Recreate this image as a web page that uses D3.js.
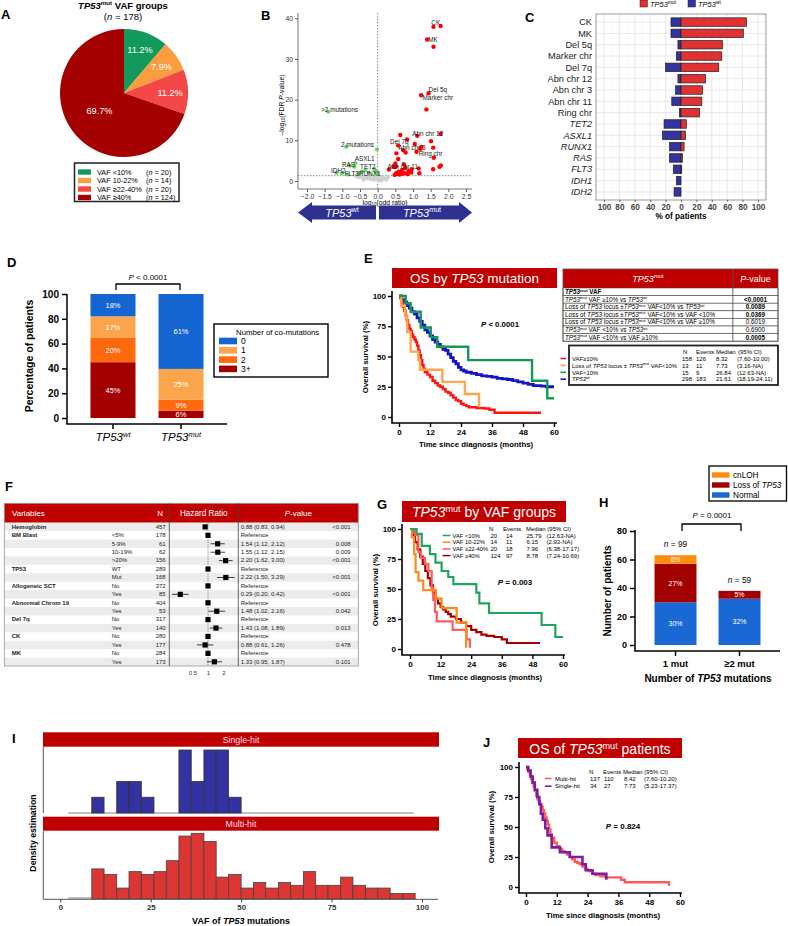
<!DOCTYPE html>
<html><head><meta charset="utf-8">
<script src="https://cdn.jsdelivr.net/npm/d3@7"></script>
<style>body{margin:0;background:#fff}svg{display:block}</style>
</head><body><svg id="c" width="788" height="926"></svg>
<script>
// ================= DATA =================
// A
const vafGroups=["VAF <10%","VAF 10-22%","VAF ≥22-40%","VAF ≥40%"];
const vafCounts=[20,14,20,124];
const vafPct=["11.2%","7.9%","11.2%","69.7%"];
// B (log10 odds ratio, -log10 FDR p)
const volcRed=[[1.58,37.9],[1.78,38.1],[1.40,34.8],[1.58,33.0],[1.44,21.6],[1.23,21.1],[1.38,17.6],[1.12,11.1],[1.78,11.6],[0.64,11.3],[1.51,9.8],[0.83,10.2],[1.05,9.1],[0.58,8.7],[1.24,8.4],[1.57,8.2],[0.72,7.6],[0.79,7.0],[0.53,6.8],[1.21,7.9],[1.10,7.2],[1.59,5.7],[0.58,5.4],[0.50,4.3],[0.74,4.1],[1.79,3.8],[1.75,3.5],[0.48,3.4],[0.45,3.6],[0.52,3.6],[0.32,2.8],[1.16,3.1],[1.57,2.9],[0.96,2.9],[0.88,2.5],[0.78,3.2],[0.69,2.7],[0.60,2.3],[0.55,1.7],[0.53,2.0],[0.78,1.9],[0.95,2.1],[1.18,1.9],[0.62,1.6],[0.70,1.8],[0.85,1.7],[0.48,1.5]];
const volcGreen=[[-1.40,17.0],[-0.89,8.4],[-0.02,7.8],[-0.63,4.4],[-0.80,3.8],[-0.66,3.5],[-0.35,2.7],[-0.45,2.3],[-0.09,2.9],[-0.05,2.3],[0.0,1.9],[-1.01,1.9],[-1.17,2.0],[-0.54,1.8],[-0.85,1.6],[-0.25,2.0]];
const volcGrey=[[-0.62,1.2],[-0.55,0.9],[-0.48,1.1],[-0.42,0.7],[-0.35,1.0],[-0.3,0.6],[-0.25,0.9],[-0.2,0.4],[-0.15,0.8],[-0.1,0.3],[-0.05,0.5],[0.02,0.2],[0.05,0.6],[0.1,0.1],[0.15,0.4],[0.2,0.7],[0.25,0.3],[0.3,1.0],[-0.08,1.1],[0.0,0.9],[-0.4,0.3],[0.12,0.9]];
const volcLabels=[["CK",1.52,38.9],["MK",1.43,34.7],["Del 5q",1.44,22.4],["Marker chr",1.27,20.5],["Abn chr 12",0.98,11.6],["Del 7q",0.35,9.6],["Abn chr 3",0.58,8.2],["Ring chr",1.16,6.7],["Abn chr 11",0.28,3.4],[">2 mutations",-1.60,17.5],["2 mutations",-1.04,8.8],["ASXL1",-0.65,5.4],["RAS",-1.01,4.0],["TET2",-0.50,3.6],["IDH2",-1.32,2.4],["FLT3",-0.94,1.8],["RUNX1",-0.53,1.8]];
const volcXTicks=[-2,-1.5,-1,-0.5,0,0.5,1,1.5,2,2.5];
const volcYTicks=[0,10,20,30,40];
// C
const cCats=["CK","MK","Del 5q","Marker chr","Del 7q","Abn chr 12","Abn chr 3","Abn chr 11","Ring chr","TET2","ASXL1","RUNX1","RAS","FLT3","IDH1","IDH2"];
const cGenes=["TET2","ASXL1","RUNX1","RAS","FLT3","IDH1","IDH2"];
const cMut=[85,81,54,53,49,32,28,27,24,7,6,4,2,1,0,0];
const cWt=[13,13,4,6,20,4,7,12,2,22,24,15,15,10,6,9];
const cTicks=[-100,-80,-60,-40,-20,0,20,40,60,80,100];
// D
const dGroups=["wt","mut"];
const dLevels=["3+","2","1","0"];
const dWt=[45,20,17,18];
const dMut=[6,9,25,61];
const dTicks=[0,20,40,60,80,100];
// E
const eVafHigh=[[0,100],[0.5,98],[1,95],[1.5,91],[2,88],[2.5,84],[3,80],[3.5,76],[4,73],[4.5,71],[5,68],[5.5,66],[6,64],[6.5,62],[7,59],[7.5,55],[8,51],[8.5,47],[9,43],[9.5,40],[10,37],[11,35],[12,33],[13,30],[14,28],[15,26],[16,25],[17,23],[18,21],[19,20],[20,18],[21,16],[22,14],[23,13],[24,11],[25,10],[26,9],[27,8],[30,7.5],[33,7],[35,6],[37,3.5],[55,3.5]];
const eLoss=[[0,100],[0.9,92],[2.3,84],[3.2,70],[4.5,54],[7.5,47],[8.1,39],[16.8,29],[25.5,19],[31,8]];
const eVafLow=[[0,100],[2.6,94],[4.5,87],[8.4,74],[12.3,66],[14.8,58],[26.8,47],[51.5,30],[57.4,15.5],[60,15.5]];
const eWt=[[0,100],[1,97],[2,95],[3,92],[4,90],[5,87],[6,85],[7,82],[8,79],[9,76],[10,72],[11,70],[12,67],[13,64],[14,62],[15,60],[16,58],[17,56],[18,55],[19,52],[20,49],[21,46],[22,44],[23,41],[24,39],[25,38],[26,37],[28,36],[30,35],[32,34],[34,33.5],[36,33],[38,32],[40,31.5],[42,31],[44,30],[46,29],[48,28],[50,27],[52,26],[55,25.5],[57,25],[60,25]];
const eCompRows=[[["TP53","bi"],["mut","sb"],[" VAF","b"]],[["TP53","i"],["mut","s"]," VAF ≥10% vs ",["TP53","i"],["wt","s"]],["Loss of ",["TP53","i"]," locus ±",["TP53","i"],["mut","s"]," VAF<10% vs ",["TP53","i"],["wt","s"]],["Loss of ",["TP53","i"]," locus ±",["TP53","i"],["mut","s"]," VAF<10% vs VAF <10%"],["Loss of ",["TP53","i"]," locus ±",["TP53","i"],["mut","s"]," VAF<10% vs VAF ≥10%"],[["TP53","i"],["mut","s"]," VAF <10% vs ",["TP53","i"],["wt","s"]],[["TP53","i"],["mut","s"]," VAF <10% vs VAF ≥10%"]];
const eCompP=["","<0.0001","0.0089","0.0369","0.6019","0.6900","0.0005"];
const eCompBold=[false,true,true,true,false,false,true];
const eLegLabels=[["VAF≥10%"],["Loss of ",["TP53","i"]," locus ± ",["TP53","i"],["mut","s"]," VAF<10%"],["VAF<10%"],[["TP53","i"],["wt","s"]]];
const eN=[158,13,15,298], eEv=[126,11,9,183], eMed=["8.32","7.73","26.84","21.61"], eCI=["(7.60-10.00)","(3.16-NA)","(12.63-NA)","(18.19-24.11)"];
const kmYTicks=[0,25,50,75,100], kmXTicks=[0,12,24,36,48,60];
// F
const fVars=["Hemoglobin","BM Blast","","","","TP53","","Allogeneic SCT","","Abnormal Chrom 19","","Del 7q","","CK","","MK",""];
const fLevels=["","<5%","5-9%","10-19%",">20%","WT","Mut","No","Yes","No","Yes","No","Yes","No","Yes","No","Yes"];
const fN=[457,178,61,62,156,289,168,372,85,404,53,317,140,280,177,284,173];
const fHR=[0.88,1,1.54,1.55,2.20,1,2.22,1,0.29,1,1.48,1,1.43,1,0.88,1,1.33];
const fLo=[0.83,null,1.12,1.12,1.62,null,1.50,null,0.20,null,1.02,null,1.08,null,0.61,null,0.95];
const fHi=[0.94,null,2.12,2.15,3.00,null,3.29,null,0.42,null,2.16,null,1.89,null,1.26,null,1.87];
const fP=["<0.001","","0.008","0.009","<0.001","","<0.001","","<0.001","","0.042","","0.013","","0.478","","0.101"];
const fTicks=[0.5,1,2];
// G
const gLow=[[0,100],[2.6,96],[4.6,86],[7.8,79],[10,72],[12.4,65],[15,60],[17,54],[26,47],[27.2,38],[31,30],[51.6,20],[57,10],[60,10]];
const gMid=[[0,100],[0.7,93],[1.6,79],[2.2,64],[3.3,57],[5.2,49],[10.2,42],[12.4,34],[18.3,22],[22,1]];
const gHigh=[[0,100],[2,95],[3.3,81],[4.3,76],[5.9,71],[7.2,65],[8.5,51],[9.1,41],[9.8,31],[10.5,23],[16.7,16],[22.2,8],[23.5,1]];
const gTop=[[0,100],[1,95],[2,89],[3,83],[4,77],[5,71],[6,65],[7,59],[8,53],[9,47],[10,42],[11,38],[12,35],[13,33],[14,31],[15,29],[16,27],[18,25],[20,22],[22,19],[24,16],[26,14],[28,12],[30,11],[33,10],[36,8],[38,5],[51,5]];
const gLeg=["VAF <10%","VAF 10-22%","VAF ≥22-40%","VAF ≥40%"];
const gN=[20,14,20,124], gEv=[14,11,18,97], gMed=["25.79","6.15","7.96","8.78"], gCI=["(12.63-NA)","(2.93-NA)","(6.38-17.17)","(7.24-10.69)"];
// H
const hGroups=["1 mut","≥2 mut"];
const hNormal=[30,32.5], hLoss=[27,5.5], hCnloh=[6,0];
const hLabels=[["30%","27%","6%"],["32%","5%",""]];
const hTotals=["99","59"];
const hTicks=[0,20,40,60,80];
// I
const vafBinEdges=[1.8,5.2,8.7,12.1,15.6,19.0,22.4,25.9,29.3,32.8,36.2,39.7,43.1,46.5,50.0,53.4,56.8,60.3,63.7,67.2,70.6,74.0,77.5,80.9,84.4,87.8,91.2,94.7,98.1];
const singleHit=[0,0,1,0,2,2,1,0,0,4,2,4,4,1,0,0,0,0,0,0,0,0,0,0,0,0,0,0];
const multiHit=[0,0,11,9,4,10,9,10,14,23,24,21,8,9,4,6,4,6,5,10,5,5,8,5,4,4,2,2];
const iTicks=[0,25,50,75,100];
// J
const jMulti=[[0,100],[0.5,98],[1,96],[1.5,93],[2,90],[2.5,87],[3,84],[3.5,80],[4,76],[4.5,73],[5,71],[5.5,69],[6,67],[6.5,64],[7,61],[7.5,58],[8,55],[8.5,52],[9,48],[9.5,44],[10,41],[11,37],[12,34],[13,32],[14,30],[15,29],[16,27],[17,25],[18,23],[19,21],[20,20],[21,19],[22,17],[23,15],[24,14],[25,13],[26,11],[27,10],[29,9],[31,8],[37,6],[38.5,4],[55.5,4],[55.7,1]];
const jSingle=[[0,100],[0.9,97],[1.8,92],[2.6,87],[3.4,81],[4.4,75],[5.2,69],[5.8,61],[6.5,56],[7.5,49],[8.4,43],[10,33],[13.2,29],[17.1,25],[22,19],[23.3,14],[25.9,11],[31.3,6]];
const jLeg=["Multi-hit","Single-hit"], jN=[137,34], jEv=[110,27], jMed=["8.42","7.73"], jCI=["(7.60-10.20)","(5.23-17.37)"];

// ================= HELPERS =================
const FONT='"Liberation Sans", Arial, Helvetica, sans-serif';
const RED="#c00000";
const svg=d3.select("#c").attr("font-family",FONT);
svg.append("rect").attr("width",788).attr("height",926).attr("fill","#fff");

function rich(parent,x,y,parts,o={}){
  const fs=o.size||10;
  const t=parent.append("text").attr("x",x).attr("y",y).attr("font-size",fs)
    .attr("text-anchor",o.anchor||"start").attr("fill",o.fill||"#000")
    .attr("font-weight",o.weight||"normal");
  if(o.style) t.attr("font-style",o.style);
  if(o.rotate) t.attr("transform",`rotate(${o.rotate},${x},${y})`);
  let cur=0;
  parts.forEach(p=>{
    const txt=Array.isArray(p)?p[0]:p, st=Array.isArray(p)?(p[1]||""):"";
    const ts=t.append("tspan").text(txt);
    if(st.includes("i")) ts.attr("font-style","italic");
    if(st.includes("b")) ts.attr("font-weight","bold");
    let target=0;
    if(st.includes("s")){target=-fs*0.38; ts.attr("font-size",fs*0.65);}
    else if(st.includes("u")){target=fs*0.22; ts.attr("font-size",fs*0.65);}
    if(target!==cur){ts.attr("dy",target-cur); cur=target;}
  });
  return t;
}
function txt(x,y,s,o={}){
  const t=svg.append("text").attr("x",x).attr("y",y).attr("font-size",o.size||8)
   .attr("text-anchor",o.anchor||"start").attr("fill",o.fill||"#000").attr("font-weight",o.weight||"normal").text(s);
  if(o.style) t.attr("font-style",o.style);
  if(o.rotate) t.attr("transform",`rotate(${o.rotate},${x},${y})`);
  return t;
}
function panelLabel(x,y,s){txt(x,y,s,{size:13,weight:"bold"});}
function styleAxis(g,fs,weight,color,sw){
  g.select(".domain").remove();
  g.attr("font-family",FONT).attr("font-size",fs);
  g.selectAll("text").attr("fill",color).attr("font-weight",weight);
  g.selectAll("line").attr("stroke",color).attr("stroke-width",sw);
}
function kmLine(data,x,y,color,w){
  svg.append("path").datum(data).attr("fill","none").attr("stroke",color).attr("stroke-width",w)
   .attr("stroke-linejoin","miter").attr("d",d3.line().x(d=>x(d[0])).y(d=>y(d[1])).curve(d3.curveStepAfter));
}
function kmFrame(x,y,ax,ay,top,right){
  const gy=svg.append("g").attr("transform",`translate(${ax},0)`).call(d3.axisLeft(y).tickValues(kmYTicks).tickSize(4).tickPadding(2));
  const gx=svg.append("g").attr("transform",`translate(0,${ay})`).call(d3.axisBottom(x).tickValues(kmXTicks).tickSize(4).tickPadding(2));
  styleAxis(gy,8,"bold","#000",1.4); styleAxis(gx,8,"bold","#000",1.4);
  svg.append("path").attr("d",`M${ax},${top}V${ay}H${right}`).attr("fill","none").attr("stroke","#000").attr("stroke-width",1.6);
}
function titleBar(x0,y0,x1,y1,parts,size,by){
  svg.append("rect").attr("x",x0).attr("y",y0).attr("width",x1-x0).attr("height",y1-y0).attr("fill",RED);
  rich(svg,(x0+x1)/2,by,parts,{size,anchor:"middle",fill:"#fff"});
}

// ================= A =================
panelLabel(1,19,"A");
rich(svg,123,9,[["TP53","ib"],["mut","sb"],[" VAF groups","b"]],{size:9.5,anchor:"middle"});
rich(svg,123,20,["(",["n","i"]," = 178)"],{size:9.5,anchor:"middle"});
const pieCol=["#119a5c","#fb9d3f","#f44747","#a40000"];
const R=64, pc=[124,93];
const pie=d3.pie().sort(null)(vafCounts);
const gA=svg.append("g").attr("transform",`translate(${pc[0]},${pc[1]})`);
gA.selectAll("path").data(pie).join("path").attr("d",d3.arc().innerRadius(0).outerRadius(R)).attr("fill",(d,i)=>pieCol[i]);
gA.selectAll("text").data(pie).join("text").each(function(d,i){
  const big=(d.endAngle-d.startAngle)>Math.PI;
  const r=big?R*0.47:R*0.72;
  const c=d3.arc().innerRadius(r).outerRadius(r).centroid(d);
  d3.select(this).attr("x",c[0]).attr("y",c[1]+3.3).attr("text-anchor","middle").attr("font-size",9.2).attr("fill","#fff").text(vafPct[i]);
});
svg.append("rect").attr("x",74.5).attr("y",163).attr("width",104.5).attr("height",38.5).attr("fill","#fff").attr("stroke","#222").attr("stroke-width",1.5);
vafGroups.forEach((g,i)=>{
  const cy=172+i*8.5;
  svg.append("rect").attr("x",78).attr("y",cy-2.7).attr("width",13).attr("height",5.4).attr("fill",pieCol[i]);
  txt(97,cy+2.6,g,{size:7.3});
  rich(svg,146,cy+2.6,["(",["n","i"]," = "+vafCounts[i]+")"],{size:7.3});
});

// ================= B =================
panelLabel(261,20,"B");
const xB=d3.scaleLinear().domain([-2,2.5]).range([307,466]);
const yB=d3.scaleLinear().domain([0,40]).range([181,18.3]);
svg.append("line").attr("x1",xB(0)).attr("x2",xB(0)).attr("y1",13).attr("y2",189).attr("stroke","#888").attr("stroke-dasharray","1.5,1.5");
svg.append("line").attr("x1",298).attr("x2",472).attr("y1",yB(1.3)).attr("y2",yB(1.3)).attr("stroke","#888").attr("stroke-dasharray","1.5,1.5");
const gbY=svg.append("g").attr("transform","translate(298,0)").call(d3.axisLeft(yB).tickValues(volcYTicks).tickSize(3).tickPadding(2));
const gbX=svg.append("g").attr("transform","translate(0,189)").call(d3.axisBottom(xB).tickValues(volcXTicks).tickFormat(d3.format(".1f")).tickSize(3).tickPadding(2));
styleAxis(gbY,6.8,"normal","#333",0.8); styleAxis(gbX,6.8,"normal","#333",0.8);
svg.append("path").attr("d","M298,13V189H472").attr("fill","none").attr("stroke","#555").attr("stroke-width",0.8);
rich(svg,385,205,["log",["10","u"],"(odd ratio)"],{size:6.8,anchor:"middle"});
rich(svg,284,105,["–log",["10","u"],"(FDR ",["P","i"],"-value)"],{size:6.8,anchor:"middle",rotate:-90});
const gB=svg.append("g");
gB.selectAll(".gr").data(volcGrey).join("circle").attr("cx",d=>xB(d[0])).attr("cy",d=>yB(d[1])).attr("r",2).attr("fill","#cfcfcf");
gB.selectAll(".gn").data(volcGreen).join("circle").attr("cx",d=>xB(d[0])).attr("cy",d=>yB(d[1])).attr("r",2.1).attr("fill","#66d466");
gB.selectAll(".rd").data(volcRed).join("circle").attr("cx",d=>xB(d[0])).attr("cy",d=>yB(d[1])).attr("r",2.2).attr("fill","#ff0000");
volcLabels.forEach(l=>txt(xB(l[1]),yB(l[2])+2.2,l[0],{size:6.4,fill:"#222"}));
// arrows
const AB="#2e3192";
svg.append("path").attr("d","M298,212.5L312,202V205.5H376V219.5H312V223Z").attr("fill",AB);
svg.append("path").attr("d","M472,212.5L459,202V205.5H379V219.5H459V223Z").attr("fill",AB);
rich(svg,342,216.5,[["TP53","i"],["wt","s"]],{size:11,anchor:"middle",fill:"#fff"});
rich(svg,422,216.5,[["TP53","i"],["mut","s"]],{size:11,anchor:"middle",fill:"#fff"});

// ================= C =================
panelLabel(525,22,"C");
const xC=d3.scaleLinear().domain([-100,100]).range([604,758]);
const yC=d3.scaleBand().domain(cCats).range([15,199]).padding(0.25);
const gC=svg.append("g");
gC.append("rect").attr("x",596).attr("y",14).attr("width",170).attr("height",186).attr("fill","#fff");
d3.range(-100,101,10).forEach(v=>gC.append("line").attr("x1",xC(v)).attr("x2",xC(v)).attr("y1",14).attr("y2",200).attr("stroke",v%20===0?"#e2e2e2":"#f0f0f0").attr("stroke-width",v%20===0?0.8:0.5));
cCats.forEach(c=>gC.append("line").attr("x1",596).attr("x2",766).attr("y1",yC(c)+yC.bandwidth()/2).attr("y2",yC(c)+yC.bandwidth()/2).attr("stroke","#e2e2e2").attr("stroke-width",0.8));
gC.selectAll(".w").data(cCats).join("rect").attr("x",(d,i)=>xC(-cWt[i])).attr("y",d=>yC(d)).attr("width",(d,i)=>xC(0)-xC(-cWt[i])).attr("height",yC.bandwidth()).attr("fill","#3333a3").attr("stroke","#222").attr("stroke-width",0.7);
gC.selectAll(".m").data(cCats).join("rect").attr("x",xC(0)).attr("y",d=>yC(d)).attr("width",(d,i)=>xC(cMut[i])-xC(0)).attr("height",yC.bandwidth()).attr("fill","#e03232").attr("stroke","#222").attr("stroke-width",0.7);
gC.append("rect").attr("x",596).attr("y",14).attr("width",170).attr("height",186).attr("fill","none").attr("stroke","#999").attr("stroke-width",1);
cCats.forEach(c=>txt(592,yC(c)+yC.bandwidth()/2+3.2,c,{size:9.2,anchor:"end",fill:"#222",style:cGenes.includes(c)?"italic":"normal"}));
const gcx=svg.append("g").attr("transform","translate(0,200)").call(d3.axisBottom(xC).tickValues(cTicks).tickFormat(d=>Math.abs(d)).tickSize(2).tickPadding(2));
styleAxis(gcx,8.2,"bold","#444",0.8);
txt(681,219,"% of patients",{size:8.2,weight:"bold",anchor:"middle"});
svg.append("rect").attr("x",640).attr("y",0).attr("width",7.5).attr("height",7).attr("fill","#e03232").attr("stroke","#222").attr("stroke-width",0.5);
rich(svg,650,7,[["TP53","i"],["mut","s"]],{size:7.5});
svg.append("rect").attr("x",688).attr("y",0).attr("width",7.5).attr("height",7).attr("fill","#3333a3").attr("stroke","#222").attr("stroke-width",0.5);
rich(svg,698,7,[["TP53","i"],["wt","s"]],{size:7.5});

// ================= D =================
panelLabel(7,267,"D");
const dCol={"0":"#1464d2","1":"#fda54d","2":"#ff6a0e","3+":"#a30000"};
const xD=d3.scaleBand().domain(dGroups).range([67,227]).paddingInner(0.338).paddingOuter(0.345);
const yD=d3.scaleLinear().domain([0,100]).range([418,294]);
[dWt,dMut].forEach((vals,gi)=>{
  const tot=d3.sum(vals); let acc=0;
  vals.forEach((v,li)=>{
    const h=v/tot*100, y0=acc, y1=acc+h; acc=y1;
    svg.append("rect").attr("x",xD(dGroups[gi])).attr("y",yD(y1)).attr("width",xD.bandwidth()).attr("height",yD(y0)-yD(y1)).attr("fill",dCol[dLevels[li]]);
    txt(xD(dGroups[gi])+xD.bandwidth()/2,(yD(y0)+yD(y1))/2+2.7,v+"%",{size:7.5,anchor:"middle",fill:"#fff"});
  });
});
const gdy=svg.append("g").attr("transform","translate(67,0)").call(d3.axisLeft(yD).tickValues(dTicks).tickSize(5).tickPadding(3));
styleAxis(gdy,10,"bold","#000",1.5);
svg.append("line").attr("x1",67).attr("x2",67).attr("y1",294).attr("y2",424).attr("stroke","#000").attr("stroke-width",1.5);
svg.append("line").attr("x1",66.25).attr("x2",227).attr("y1",424).attr("y2",424).attr("stroke","#000").attr("stroke-width",1.5);
dGroups.forEach(g=>{
  const cx=xD(g)+xD.bandwidth()/2;
  svg.append("line").attr("x1",cx).attr("x2",cx).attr("y1",424).attr("y2",429).attr("stroke","#000").attr("stroke-width",1.5);
  rich(svg,cx,441,[["TP53","i"],[g,"si"]],{size:11.5,anchor:"middle"});
});
txt(33,356,"Percentage of patients",{size:10.5,weight:"bold",anchor:"middle",rotate:-90});
svg.append("path").attr("d","M116,290V284H180V290").attr("fill","none").attr("stroke","#000").attr("stroke-width",1.3);
rich(svg,148,280,[["P","i"]," < 0.0001"],{size:8,anchor:"middle"});
svg.append("rect").attr("x",214).attr("y",324).attr("width",114).attr("height",53).attr("fill","#fff").attr("stroke","#000").attr("stroke-width",1.4);
txt(236,334.5,"Number of co-mutations",{size:7.8});
["0","1","2","3+"].forEach((l,i)=>{
  const cy=341+i*9.3;
  svg.append("rect").attr("x",219).attr("y",cy-3.3).attr("width",18).attr("height",6.6).attr("fill",dCol[l]);
  txt(241,cy+3,l,{size:8.5});
});

// ================= E =================
panelLabel(364,263,"E");
const xE=d3.scaleLinear().domain([0,60]).range([399,554]);
const yE=d3.scaleLinear().domain([0,100]).range([417,296]);
titleBar(392,268,557,288,["OS by ",["TP53","i"]," mutation"],13.5,283);
kmFrame(xE,yE,392,423,291,557);
kmLine(eWt,xE,yE,"#1414c8",2.8);
kmLine(eVafHigh,xE,yE,"#ff1414",2.4);
kmLine(eLoss,xE,yE,"#ffa54f",2.4);
kmLine(eVafLow,xE,yE,"#15985a",2.4);
txt(476,447,"Time since diagnosis (months)",{size:7.8,weight:"bold",anchor:"middle"});
txt(368,357,"Overall survival (%)",{size:7.8,weight:"bold",anchor:"middle",rotate:-90});
rich(svg,500,327,[["P","i"]," < 0.0001"],{size:7.8,anchor:"middle",weight:"bold"});
// comparison table
const tx0=563,tx1=778,tdv=733,ty0=269,thh=19,trh=7.6;
svg.append("rect").attr("x",tx0).attr("y",ty0).attr("width",tx1-tx0).attr("height",thh).attr("fill",RED);
rich(svg,(tx0+tdv)/2,ty0+12.5,[["TP53","i"],["mut","s"]],{size:9,anchor:"middle",fill:"#fff"});
rich(svg,(tdv+tx1)/2,ty0+12.5,[["P","i"],"-value"],{size:9,anchor:"middle",fill:"#fff"});
eCompRows.forEach((r,i)=>{
  const y=ty0+thh+i*trh;
  svg.append("rect").attr("x",tx0).attr("y",y).attr("width",tdv-tx0).attr("height",trh).attr("fill","#fff").attr("stroke","#444").attr("stroke-width",0.6);
  svg.append("rect").attr("x",tdv).attr("y",y).attr("width",tx1-tdv).attr("height",trh).attr("fill","#fff").attr("stroke","#444").attr("stroke-width",0.6);
  rich(svg,tx0+2,y+6,r,{size:6.3});
  txt((tdv+tx1)/2,y+6,eCompP[i],{size:6.3,anchor:"middle",weight:eCompBold[i]?"bold":"normal"});
});
svg.append("rect").attr("x",tx0).attr("y",ty0).attr("width",tx1-tx0).attr("height",thh+7*trh).attr("fill","none").attr("stroke","#555").attr("stroke-width",0.8);
svg.append("line").attr("x1",tdv).attr("x2",tdv).attr("y1",ty0).attr("y2",ty0+thh).attr("stroke","#555").attr("stroke-width",0.8);
// legend
svg.append("rect").attr("x",569).attr("y",345.5).attr("width",209).attr("height",39.5).attr("fill","#fff").attr("stroke","#222").attr("stroke-width",1.8);
txt(683,354,"N",{size:6});txt(696,354,"Events",{size:6});txt(716,354,"Median",{size:6});txt(738,354,"(95% CI)",{size:6});
const eCols=["#ff1414","#ffa54f","#15985a","#1414c8"];
eLegLabels.forEach((l,i)=>{
  const by=360.7+i*6.9;
  svg.append("line").attr("x1",560.5).attr("x2",566).attr("y1",by-2.2).attr("y2",by-2.2).attr("stroke",eCols[i]).attr("stroke-width",1.6);
  rich(svg,572,by,l,{size:5.9});
  txt(682,by,eN[i],{size:6});txt(696,by,eEv[i],{size:6});txt(716,by,eMed[i],{size:6});txt(737,by,eCI[i],{size:6});
});

// ================= F =================
panelLabel(5,491,"F");
const fx0=4.3,fx1=358.3,fy0=503.3,fhh=19.4,frh=8.43,fd1=169.3,fd2=238.3;
svg.append("rect").attr("x",fx0).attr("y",fy0).attr("width",fx1-fx0).attr("height",fhh).attr("fill",RED);
fN.forEach((n,i)=>{
  if(i%2===0) svg.append("rect").attr("x",fx0).attr("y",fy0+fhh+i*frh).attr("width",fx1-fx0).attr("height",frh).attr("fill","#ececec");
});
const xF=d3.scaleLog().domain([0.5,2]).range([192.5,223.5]);
svg.append("line").attr("x1",xF(1)).attr("x2",xF(1)).attr("y1",fy0+fhh).attr("y2",fy0+fhh+17*frh).attr("stroke","#666").attr("stroke-dasharray","1.2,1.2").attr("stroke-width",0.8);
fN.forEach((n,i)=>{
  const by=fy0+fhh+i*frh+6, cy=fy0+fhh+i*frh+frh/2;
  if(fVars[i]) txt(11.7,by,fVars[i],{size:6,weight:"bold",fill:"#222"});
  if(fLevels[i]) txt(111.7,by,fLevels[i],{size:6,fill:"#222"});
  txt(165.7,by,n,{size:6,anchor:"end",fill:"#222"});
  txt(240.7,by,fLo[i]==null?"Reference":`${fHR[i].toFixed(2)} (${fLo[i].toFixed(2)}, ${fHi[i].toFixed(2)})`,{size:6,fill:"#222"});
  if(fP[i]) txt(350.7,by,fP[i],{size:6,anchor:"end",fill:"#222"});
  if(fLo[i]!=null) svg.append("line").attr("x1",xF(fLo[i])).attr("x2",xF(fHi[i])).attr("y1",cy).attr("y2",cy).attr("stroke","#111").attr("stroke-width",0.8);
  svg.append("rect").attr("x",xF(fHR[i])-2.6).attr("y",cy-2.6).attr("width",5.2).attr("height",5.2).attr("fill","#000");
});
svg.append("rect").attr("x",fx0).attr("y",fy0).attr("width",fx1-fx0).attr("height",fhh+17*frh).attr("fill","none").attr("stroke","#999").attr("stroke-width",0.8);
[fd1,fd2].forEach(x=>svg.append("line").attr("x1",x).attr("x2",x).attr("y1",fy0).attr("y2",fy0+fhh+17*frh).attr("stroke","#444").attr("stroke-width",0.8));
txt(12,516,"Variables",{size:8,fill:"#fff"});
txt(163,516,"N",{size:8,fill:"#fff",anchor:"end"});
txt(203.8,516,"Hazard Ratio",{size:8.2,fill:"#fff",anchor:"middle"});
rich(svg,298.3,516,[["P","i"],"-value"],{size:8,fill:"#fff",anchor:"middle"});
const gfx=svg.append("g").attr("transform",`translate(0,${fy0+fhh+17*frh})`).call(d3.axisBottom(xF).tickValues(fTicks).tickFormat(d=>d).tickSize(0).tickPadding(5));
styleAxis(gfx,6,"normal","#333",0);

// ================= G =================
panelLabel(377,509,"G");
const xG=d3.scaleLinear().domain([0,60]).range([410,563]);
const yG=d3.scaleLinear().domain([0,100]).range([649,529]);
titleBar(402,501,566,522,[["TP53","i"],["mut","s"]," by VAF groups"],14,517);
kmFrame(xG,yG,402,655,524,565);
const gCols=["#21a460","#ff8a1a","#ff5c5c","#a80000"];
kmLine(gTop,xG,yG,gCols[3],2.2);
kmLine(gHigh,xG,yG,gCols[2],2.2);
kmLine(gMid,xG,yG,gCols[1],2.2);
kmLine(gLow,xG,yG,gCols[0],2.2);
txt(485,680,"Time since diagnosis (months)",{size:7.8,weight:"bold",anchor:"middle"});
txt(378,590,"Overall survival (%)",{size:7.8,weight:"bold",anchor:"middle",rotate:-90});
rich(svg,515,585,[["P","i"]," = 0.003"],{size:8,anchor:"middle",weight:"bold"});
txt(489,530.5,"N",{size:6});txt(503,530.5,"Events",{size:6});txt(526,530.5,"Median (95% CI)",{size:6});
gLeg.forEach((l,i)=>{
  const by=537.5+i*6.7;
  svg.append("line").attr("x1",442.5).attr("x2",450.5).attr("y1",by-2).attr("y2",by-2).attr("stroke",gCols[i]).attr("stroke-width",1.5);
  txt(452.5,by,l,{size:5.8});txt(490.5,by,gN[i],{size:6});txt(506,by,gEv[i],{size:6});txt(526.5,by,gMed[i],{size:6});txt(546.5,by,gCI[i],{size:6});
});

// ================= H =================
panelLabel(599,507,"H");
const hCol={normal:"#1a68d4",loss:"#a30000",cnloh:"#ff8c0a"};
const xH=d3.scaleBand().domain(hGroups).range([635,780]).paddingInner(0.344).paddingOuter(0.305);
const yH=d3.scaleLinear().domain([0,80]).range([645,531]);
hGroups.forEach((g,gi)=>{
  const segs=[[hNormal[gi],hCol.normal],[hLoss[gi],hCol.loss],[hCnloh[gi],hCol.cnloh]];
  let acc=0;
  segs.forEach(([v,c],si)=>{
    if(!v) return;
    const y0=acc,y1=acc+v; acc=y1;
    svg.append("rect").attr("x",xH(g)).attr("y",yH(y1)).attr("width",xH.bandwidth()).attr("height",yH(y0)-yH(y1)).attr("fill",c);
    if(hLabels[gi][si]) txt(xH(g)+xH.bandwidth()/2,(yH(y0)+yH(y1))/2+2.5,hLabels[gi][si],{size:7,anchor:"middle",fill:"#fff"});
  });
  rich(svg,xH(g)+xH.bandwidth()/2,yH(acc)-8,[["n","i"]," = "+hTotals[gi]],{size:8.3,anchor:"middle"});
});
const ghy=svg.append("g").attr("transform","translate(635,0)").call(d3.axisLeft(yH).tickValues(hTicks).tickSize(5).tickPadding(3));
styleAxis(ghy,9,"bold","#000",1.5);
svg.append("line").attr("x1",635).attr("x2",635).attr("y1",530).attr("y2",651).attr("stroke","#000").attr("stroke-width",1.5);
svg.append("line").attr("x1",634.25).attr("x2",780).attr("y1",651).attr("y2",651).attr("stroke","#000").attr("stroke-width",1.5);
hGroups.forEach(g=>{
  const cx=xH(g)+xH.bandwidth()/2;
  svg.append("line").attr("x1",cx).attr("x2",cx).attr("y1",651).attr("y2",656).attr("stroke","#000").attr("stroke-width",1.5);
  txt(cx,667,g,{size:9.5,weight:"bold",anchor:"middle"});
});
rich(svg,708,682,["Number of ",["TP53","i"]," mutations"],{size:10,weight:"bold",anchor:"middle"});
txt(611,591,"Number of patients",{size:10,weight:"bold",anchor:"middle",rotate:-90});
svg.append("path").attr("d","M682,531V524H741V531").attr("fill","none").attr("stroke","#000").attr("stroke-width",1.3);
rich(svg,712,518,[["P","i"]," = 0.0001"],{size:8,anchor:"middle"});
svg.append("rect").attr("x",709).attr("y",466).attr("width",77.5).attr("height",35).attr("fill","#fff").attr("stroke","#000").attr("stroke-width",1.3);
[["cnLOH",hCol.cnloh],[["Loss of ",["TP53","i"]],hCol.loss],["Normal",hCol.normal]].forEach(([l,c],i)=>{
  const cy=475+i*10;
  svg.append("rect").attr("x",712).attr("y",cy-2.7).attr("width",17.5).attr("height",5.4).attr("fill",c);
  rich(svg,733,cy+3,Array.isArray(l)?l:[l],{size:8.2});
});

// ================= I =================
panelLabel(12,743,"I");
const xI=d3.scaleLinear().domain([0,100]).range([60.3,422]);
const yI1=d3.scaleLinear().domain([0,4]).range([813,750]);
const yI2=d3.scaleLinear().domain([0,24]).range([899,833.3]);
svg.append("rect").attr("x",43).attr("y",732.3).attr("width",396).attr("height",14.4).attr("fill",RED);
txt(241,742.8,"Single-hit",{size:8.8,fill:"#fde",anchor:"middle"});
svg.append("rect").attr("x",43).attr("y",816.7).attr("width",396).attr("height",14).attr("fill",RED);
txt(241,826.9,"Multi-hit",{size:8.8,fill:"#fde",anchor:"middle"});
svg.append("line").attr("x1",xI(2.2)).attr("x2",xI(97.7)).attr("y1",813).attr("y2",813).attr("stroke","#aaa").attr("stroke-width",1.4);
svg.append("line").attr("x1",xI(2.2)).attr("x2",xI(97.7)).attr("y1",898).attr("y2",898).attr("stroke","#aaa").attr("stroke-width",1.4);
const bins=vafBinEdges.slice(0,-1).map((e,i)=>({x0:e,x1:vafBinEdges[i+1],s:singleHit[i],m:multiHit[i]}));
svg.append("g").selectAll("rect").data(bins.filter(b=>b.s>0)).join("rect")
  .attr("x",d=>xI(d.x0)).attr("width",d=>xI(d.x1)-xI(d.x0)).attr("y",d=>yI1(d.s)).attr("height",d=>yI1(0)-yI1(d.s))
  .attr("fill","#3232a2").attr("stroke","#333").attr("stroke-width",0.8);
svg.append("g").selectAll("rect").data(bins.filter(b=>b.m>0)).join("rect")
  .attr("x",d=>xI(d.x0)).attr("width",d=>xI(d.x1)-xI(d.x0)).attr("y",d=>yI2(d.m)).attr("height",d=>yI2(0)-yI2(d.m))
  .attr("fill","#dd3434").attr("stroke","#444").attr("stroke-width",0.8);
svg.append("line").attr("x1",43.3).attr("x2",43.3).attr("y1",746.7).attr("y2",813).attr("stroke","#555").attr("stroke-width",1);
svg.append("line").attr("x1",43.3).attr("x2",43.3).attr("y1",830.7).attr("y2",899).attr("stroke","#555").attr("stroke-width",1);
svg.append("line").attr("x1",43).attr("x2",438).attr("y1",899.3).attr("y2",899.3).attr("stroke","#555").attr("stroke-width",1);
const gix=svg.append("g").attr("transform","translate(0,899.3)").call(d3.axisBottom(xI).tickValues(iTicks).tickSize(3).tickPadding(2));
styleAxis(gix,7.8,"bold","#333",0.9);
rich(svg,241,924,["VAF of ",["TP53","i"]," mutations"],{size:9,weight:"bold",anchor:"middle"});
txt(36,833,"Density estimation",{size:8.7,weight:"bold",anchor:"middle",rotate:-90});

// ================= J =================
panelLabel(483,747,"J");
const xJ=d3.scaleLinear().domain([0,60]).range([526,680]);
const yJ=d3.scaleLinear().domain([0,100]).range([887,767]);
titleBar(518,738,682,758,["OS of ",["TP53","i"],["mut","s"]," patients"],14,754);
kmFrame(xJ,yJ,519,893,762,682);
kmLine(jMulti,xJ,yJ,"#ff5a5a",2.4);
kmLine(jSingle,xJ,yJ,"#7b1fa0",2.6);
txt(603,918,"Time since diagnosis (months)",{size:7.8,weight:"bold",anchor:"middle"});
txt(494,827,"Overall survival (%)",{size:7.8,weight:"bold",anchor:"middle",rotate:-90});
rich(svg,623,829,[["P","i"]," = 0.824"],{size:8,anchor:"middle",weight:"bold"});
txt(589,773.5,"N",{size:6});txt(603,773.5,"Events",{size:6});txt(623,773.5,"Median (95% CI)",{size:6});
const jCols=["#ff5a5a","#7b1fa0"];
jLeg.forEach((l,i)=>{
  const by=780.5+i*7.7;
  svg.append("line").attr("x1",545).attr("x2",551.5).attr("y1",by-2).attr("y2",by-2).attr("stroke",jCols[i]).attr("stroke-width",1.6);
  txt(555,by,l,{size:6});txt(590,by,jN[i],{size:6});txt(604,by,jEv[i],{size:6});txt(624,by,jMed[i],{size:6});txt(644,by,jCI[i],{size:6});
});
</script></body></html>
